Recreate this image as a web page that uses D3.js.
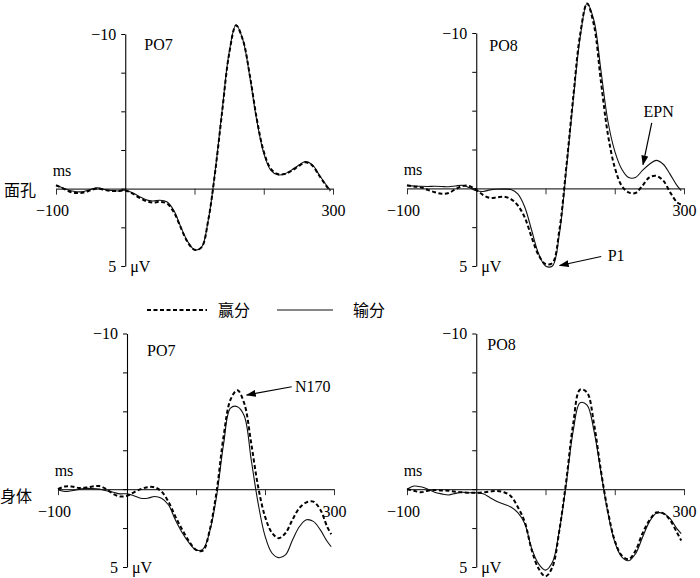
<!DOCTYPE html>
<html><head><meta charset="utf-8">
<script src="https://cdn.jsdelivr.net/npm/d3@7"></script>
<style>
body{margin:0;background:#fff}
svg{display:block}
text{font-family:"Liberation Serif","Times New Roman",serif;fill:#000}
.cjk{font-family:"Noto Sans CJK SC","Noto Sans",sans-serif}
</style>
</head><body>
<svg id="chart" width="700" height="578"></svg>
<script>
// ---- data (ms, µV; negative plotted upward) ----
const times = [-100,-90,-80,-70,-60,-50,-40,-30,-20,-10,
  0,10,20,30,40,50,60,70,80,90,
  100,110,120,130,140,150,160,170,180,190,
  200,210,220,230,240,250,260,270,280,290,296];

const facePO7Win = [-0.22,-0.02,0.2,0.28,0.25,0.1,-0.02,0.08,0.15,0.15,
  0.12,0.3,0.58,0.8,0.9,0.85,0.95,1.5,2.5,3.45,
  3.95,3.8,2.0,-1.15,-5.0,-8.7,-10.55,-9.6,-7.3,-4.5,
  -2.4,-1.3,-0.95,-0.95,-1.15,-1.45,-1.7,-1.5,-0.85,-0.2,0.15];
const facePO7Lose = [-0.2,-0.05,0.12,0.2,0.18,0.05,-0.05,0.05,0.12,0.15,
  0.1,0.25,0.5,0.72,0.8,0.75,0.85,1.4,2.45,3.4,
  3.95,3.8,2.0,-1.2,-5.1,-8.8,-10.6,-9.6,-7.2,-4.4,
  -2.3,-1.2,-0.9,-0.95,-1.2,-1.5,-1.75,-1.55,-0.9,-0.25,0.1];

const facePO8Win = [-0.2,-0.12,-0.06,0.1,0.25,0.35,0.3,0.05,-0.15,-0.15,
  0.1,0.43,0.62,0.58,0.54,0.69,1.1,1.87,3.15,4.3,
  4.87,4.8,2.7,-1.35,-5.85,-9.9,-11.9,-10.5,-6.9,-3.5,
  -1.35,-0.17,0.26,0.3,-0.17,-0.7,-0.8,-0.5,0.26,0.9,1.05];
const facePO8Lose = [-0.17,-0.15,-0.13,-0.12,-0.13,-0.12,-0.1,-0.15,-0.2,-0.05,
  0.15,0.2,0.1,0.06,0.05,0.08,0.36,1.2,2.7,4.2,
  5.0,5.0,2.95,-1.15,-5.65,-9.7,-11.9,-10.8,-7.6,-4.35,
  -2.4,-1.25,-0.7,-0.7,-1.15,-1.55,-1.8,-1.55,-0.9,-0.17,0.15];

const bodyPO7Win = [0.0,-0.17,-0.17,-0.08,-0.1,-0.17,-0.2,0.0,0.3,0.47,
  0.43,0.2,0.0,-0.13,-0.12,0.15,0.8,1.75,2.6,3.35,
  3.9,3.95,2.6,0.1,-3.4,-5.75,-6.35,-5.5,-2.95,-0.17,
  1.75,2.8,3.15,2.8,1.95,1.2,0.85,0.8,1.3,2.4,2.9];
const bodyPO7Lose = [0.04,0.15,0.1,0.02,-0.05,-0.04,0.0,0.1,0.2,0.3,
  0.3,0.42,0.58,0.58,0.47,0.58,1.0,1.97,2.8,3.45,
  3.9,3.85,2.7,0.4,-2.9,-5.2,-5.3,-4.7,-1.9,0.9,
  3.0,4.1,4.4,4.2,3.25,2.4,1.97,2.07,2.6,3.35,3.7];

const bodyPO8Win = [0.0,0.1,0.2,0.1,0.05,0.08,0.1,0.17,0.2,0.23,
  0.23,0.2,0.15,0.12,0.2,0.45,1.15,2.1,3.9,5.1,
  5.6,5.0,2.65,-0.55,-4.2,-6.4,-6.2,-4.2,-1.2,1.4,
  3.3,4.25,4.5,3.95,2.85,2.0,1.5,1.55,2.0,2.8,3.3];
const bodyPO8Lose = [0.0,-0.2,-0.15,0.0,0.2,0.3,0.37,0.27,0.2,0.23,
  0.23,0.3,0.55,0.8,0.97,1.15,1.5,2.2,3.8,4.8,
  5.2,4.7,2.65,-0.35,-3.75,-5.55,-5.4,-3.75,-1.1,1.5,
  3.4,4.35,4.6,4.15,3.1,2.1,1.55,1.55,1.9,2.55,2.85];

const yTicks = [-10,-7.5,-5,-2.5,0,2.5,5];
const yTickLabels = {"-10":"\u221210","5":"5"};
const xTicks = [-100,100,200,300];
const xTickLabels = {"-100":"\u2212100","300":"300"};
const rowLabels = ["面孔","身体"];
const channels = ["PO7","PO8","PO7","PO8"];
const legendLabels = ["赢分","输分"];
const annotations = [
  {panel:1, text:"P1",   tip:[120.5,4.97],  tail:[180.4,4.39],  label:[189.8,4.68],  anchor:"start"},
  {panel:1, text:"EPN",  tip:[240.8,-1.53], tail:[253.4,-4.21], label:[263.5,-4.59], anchor:"middle"},
  {panel:2, text:"N170", tip:[173.5,-6.05], tail:[238.7,-6.58], label:[243.5,-6.24], anchor:"start"}
];

// ---- layout ----
const series = [[facePO7Win,facePO7Lose],[facePO8Win,facePO8Lose],[bodyPO7Win,bodyPO7Lose],[bodyPO8Win,bodyPO8Lose]];
const layout = [
  {x:[56,333],  y:[34,266],    title:[19,16]},
  {x:[407,684], y:[33,266],    title:[13,18]},
  {x:[58,334],  y:[333.5,567], title:[20,22.5]},
  {x:[407,684], y:[333.5,567], title:[11,16.5]}
];
const rowLabelPos = [{x:4,y:190},{x:0,y:496}];
const FS = "16px";

const svg = d3.select("#chart");
svg.append("rect").attr("width",700).attr("height",578).attr("fill","#fff");
const defs = svg.append("defs");
defs.append("marker").attr("id","arrow").attr("markerUnits","userSpaceOnUse")
  .attr("markerWidth",10).attr("markerHeight",7).attr("refX",9).attr("refY",3.5)
  .attr("orient","auto")
  .append("path").attr("d","M0,0 L10,3.5 L0,7 Z").attr("fill","#000");

const panelScales = [];
layout.forEach((L,i)=>{
  const xs = d3.scaleLinear().domain([-100,300]).range(L.x);
  const ys = d3.scaleLinear().domain([-10,5]).range(L.y);
  panelScales.push({xs,ys});
  const g = svg.append("g");

  // x axis (zero line)
  const gx = g.append("g").attr("transform",`translate(0,${ys(0)})`)
    .call(d3.axisBottom(xs).tickValues(xTicks).tickSize(6).tickSizeOuter(0).tickPadding(10)
      .tickFormat(d=>xTickLabels[d]||""));
  gx.attr("font-family",null).attr("font-size",null);
  gx.select(".domain").attr("stroke","#333").attr("stroke-width",1.1);
  gx.selectAll(".tick line").attr("stroke","#333");
  gx.selectAll(".tick text").style("font-size",FS).attr("dx",d=>d===-100?-4:0);

  // y axis
  const gy = g.append("g").attr("transform",`translate(${xs(0)},0)`)
    .call(d3.axisLeft(ys).tickValues(yTicks).tickSize(4).tickSizeOuter(0).tickPadding(5)
      .tickFormat(d=>yTickLabels[d]||""));
  gy.attr("font-family",null).attr("font-size",null);
  gy.select(".domain").attr("stroke","#000").attr("stroke-width",1.1);
  gy.selectAll(".tick line").attr("stroke","#000");
  gy.selectAll(".tick text").style("font-size",FS);

  // units
  g.append("text").attr("x",xs(0)+5).attr("y",ys(5)).attr("dy","0.35em")
    .style("font-size",FS).text("\u03bcV");
  g.append("text").attr("x",xs(-100)+6).attr("y",ys(0)-13).attr("text-anchor","middle")
    .style("font-size",FS).text("ms");
  // title
  g.append("text").attr("x",xs(0)+L.title[0]).attr("y",L.y[0]+L.title[1])
    .style("font-size",FS).text(channels[i]);

  const line = d3.line().x((d,j)=>xs(times[j])).y(d=>ys(d)).curve(d3.curveCatmullRom.alpha(0.5));
  // lose (solid)
  g.append("path").datum(series[i][1]).attr("d",line)
    .attr("fill","none").attr("stroke","#111").attr("stroke-width",1.1);
  // win (dashed)
  g.append("path").datum(series[i][0]).attr("d",line)
    .attr("fill","none").attr("stroke","#000").attr("stroke-width",2).attr("stroke-dasharray","4,2.5");
});

// row labels
rowLabels.forEach((t,i)=>{
  svg.append("text").attr("class","cjk").attr("x",rowLabelPos[i].x).attr("y",rowLabelPos[i].y)
    .attr("dy","0.35em").style("font-size","16px").text(t);
});

// annotations
annotations.forEach(a=>{
  const {xs,ys} = panelScales[a.panel];
  svg.append("line").attr("x1",xs(a.tail[0])).attr("y1",ys(a.tail[1]))
    .attr("x2",xs(a.tip[0])).attr("y2",ys(a.tip[1]))
    .attr("stroke","#000").attr("stroke-width",1.2).attr("marker-end","url(#arrow)");
  svg.append("text").attr("x",xs(a.label[0])).attr("y",ys(a.label[1]))
    .attr("text-anchor",a.anchor).style("font-size",FS).text(a.text);
});

// legend
const lg = svg.append("g").attr("transform","translate(0,310)");
lg.append("line").attr("x1",147).attr("x2",207).attr("stroke","#000").attr("stroke-width",2).attr("stroke-dasharray","4,2.5");
lg.append("text").attr("class","cjk").attr("x",218).attr("dy","0.35em").style("font-size","16px").text(legendLabels[0]);
lg.append("line").attr("x1",277).attr("x2",333).attr("stroke","#111").attr("stroke-width",1.1);
lg.append("text").attr("class","cjk").attr("x",353).attr("dy","0.35em").style("font-size","16px").text(legendLabels[1]);
</script>
</body></html>
